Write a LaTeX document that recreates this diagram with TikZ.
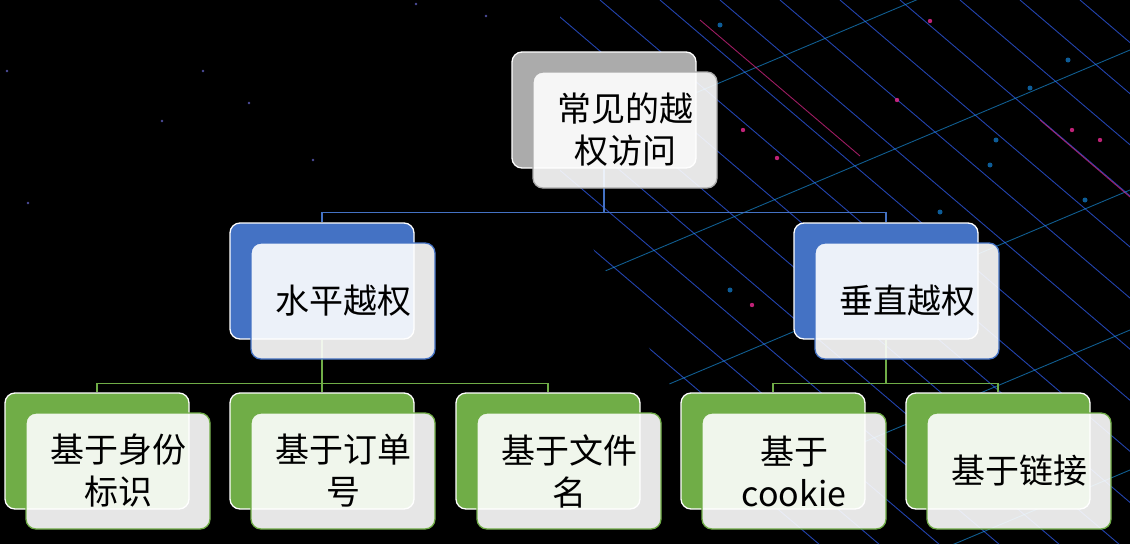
\documentclass[tikz,border=0pt]{standalone}
\usepackage{fontspec}
\setmainfont{Noto Sans CJK SC}
\usetikzlibrary{positioning,backgrounds}
\definecolor{acblue}{HTML}{4472C4}
\definecolor{acgreen}{HTML}{70AD47}
\definecolor{acgray}{HTML}{ABABAB}
\definecolor{netblue}{HTML}{2F5AE8}
\definecolor{netpink}{HTML}{E0288C}
\begin{document}
\begin{tikzpicture}[x=1pt,y=-1pt,line join=round,
  back/.style={draw=white,line width=1.3pt,rounded corners=10pt,minimum width=184pt,minimum height=116pt,inner sep=0pt},
  front/.style={draw=#1,line width=1.3pt,rounded corners=10pt,fill=white,fill opacity=0.9,text opacity=1,
    minimum width=184pt,minimum height=116pt,inner sep=0pt,align=center,font=\fontsize{34}{42}\selectfont},
  link/.style={draw=#1,line width=1.3pt}]
\useasboundingbox (0,0) rectangle (1130,544);
% boxes
\node[back,fill=acgray] (root) at (604,110) {};
\node[front=acgray] (rootf) at ([shift={(21,20)}]root.center) {常见的越\\权访问};
\foreach \n/\x/\t in {horiz/322/水平越权,vert/886/垂直越权}{
  \node[back,fill=acblue] (\n) at (\x,281) {};
  \node[front=acblue] (f\n) at ([shift={(21,20)}]\n.center) {\t};
}
\foreach \n/\x/\t in {byid/97/{基于身份\\标识},byorder/322/{基于订单\\号},byfile/548/{基于文件\\名},
  bycookie/773/{基于\\cookie},bylink/998/{基于链接}}{
  \node[back,fill=acgreen] (\n) at (\x,451) {};
  \node[front=acgreen] (f\n) at ([shift={(21,20)}]\n.center) {\t};
}
\begin{pgfonlayer}{background}
\fill[black] (0,0) rectangle (1130,544);
% network lines in the back
\begin{scope}
\clip (560,0)--(1130,0)--(1130,544)--(760,544)--(560,190)--cycle;
\foreach \s in {-420,-360,...,1100}{\draw[netblue,opacity=0.75,line width=0.9pt] (\s,0) -- ++(640,545);}
\foreach \s in {150,290,430,570,710}{\draw[netblue!60!cyan,opacity=0.6,line width=0.9pt] (560,\s) -- ++(570,-240);}
\draw[netpink,opacity=0.7,line width=0.9pt] (700,20) -- ++(160,136) (1040,120) -- ++(90,77);
\foreach \p in {(930,21),(897,100),(743,130),(777,158),(1072,130),(1100,140),(752,305)}{\fill[netpink,opacity=0.85] \p circle(2.2pt);}
\foreach \p in {(996,140),(990,165),(940,212),(720,25),(1068,60),(1030,88),(730,290),(1085,200)}{\fill[cyan!60!blue,opacity=0.75] \p circle(2.5pt);}
\end{scope}
\foreach \p in {(249,103),(162,121),(203,71),(313,160),(28,203),(7,71),(416,4),(486,16)}{\fill[blue!50!white,opacity=0.6] \p circle(1.3pt);}
% connectors
\draw[link=acblue] (root.south) -- ++(0,44) -| (horiz.north);
\draw[link=acblue] (root.south) -- ++(0,44) -| (vert.north);
\foreach \c in {byid,byorder,byfile}{\draw[link=acgreen] (horiz.south) -- ++(0,44) -| (\c.north);}
\foreach \c in {bycookie,bylink}{\draw[link=acgreen] (vert.south) -- ++(0,44) -| (\c.north);}
\end{pgfonlayer}
\end{tikzpicture}
\end{document}
